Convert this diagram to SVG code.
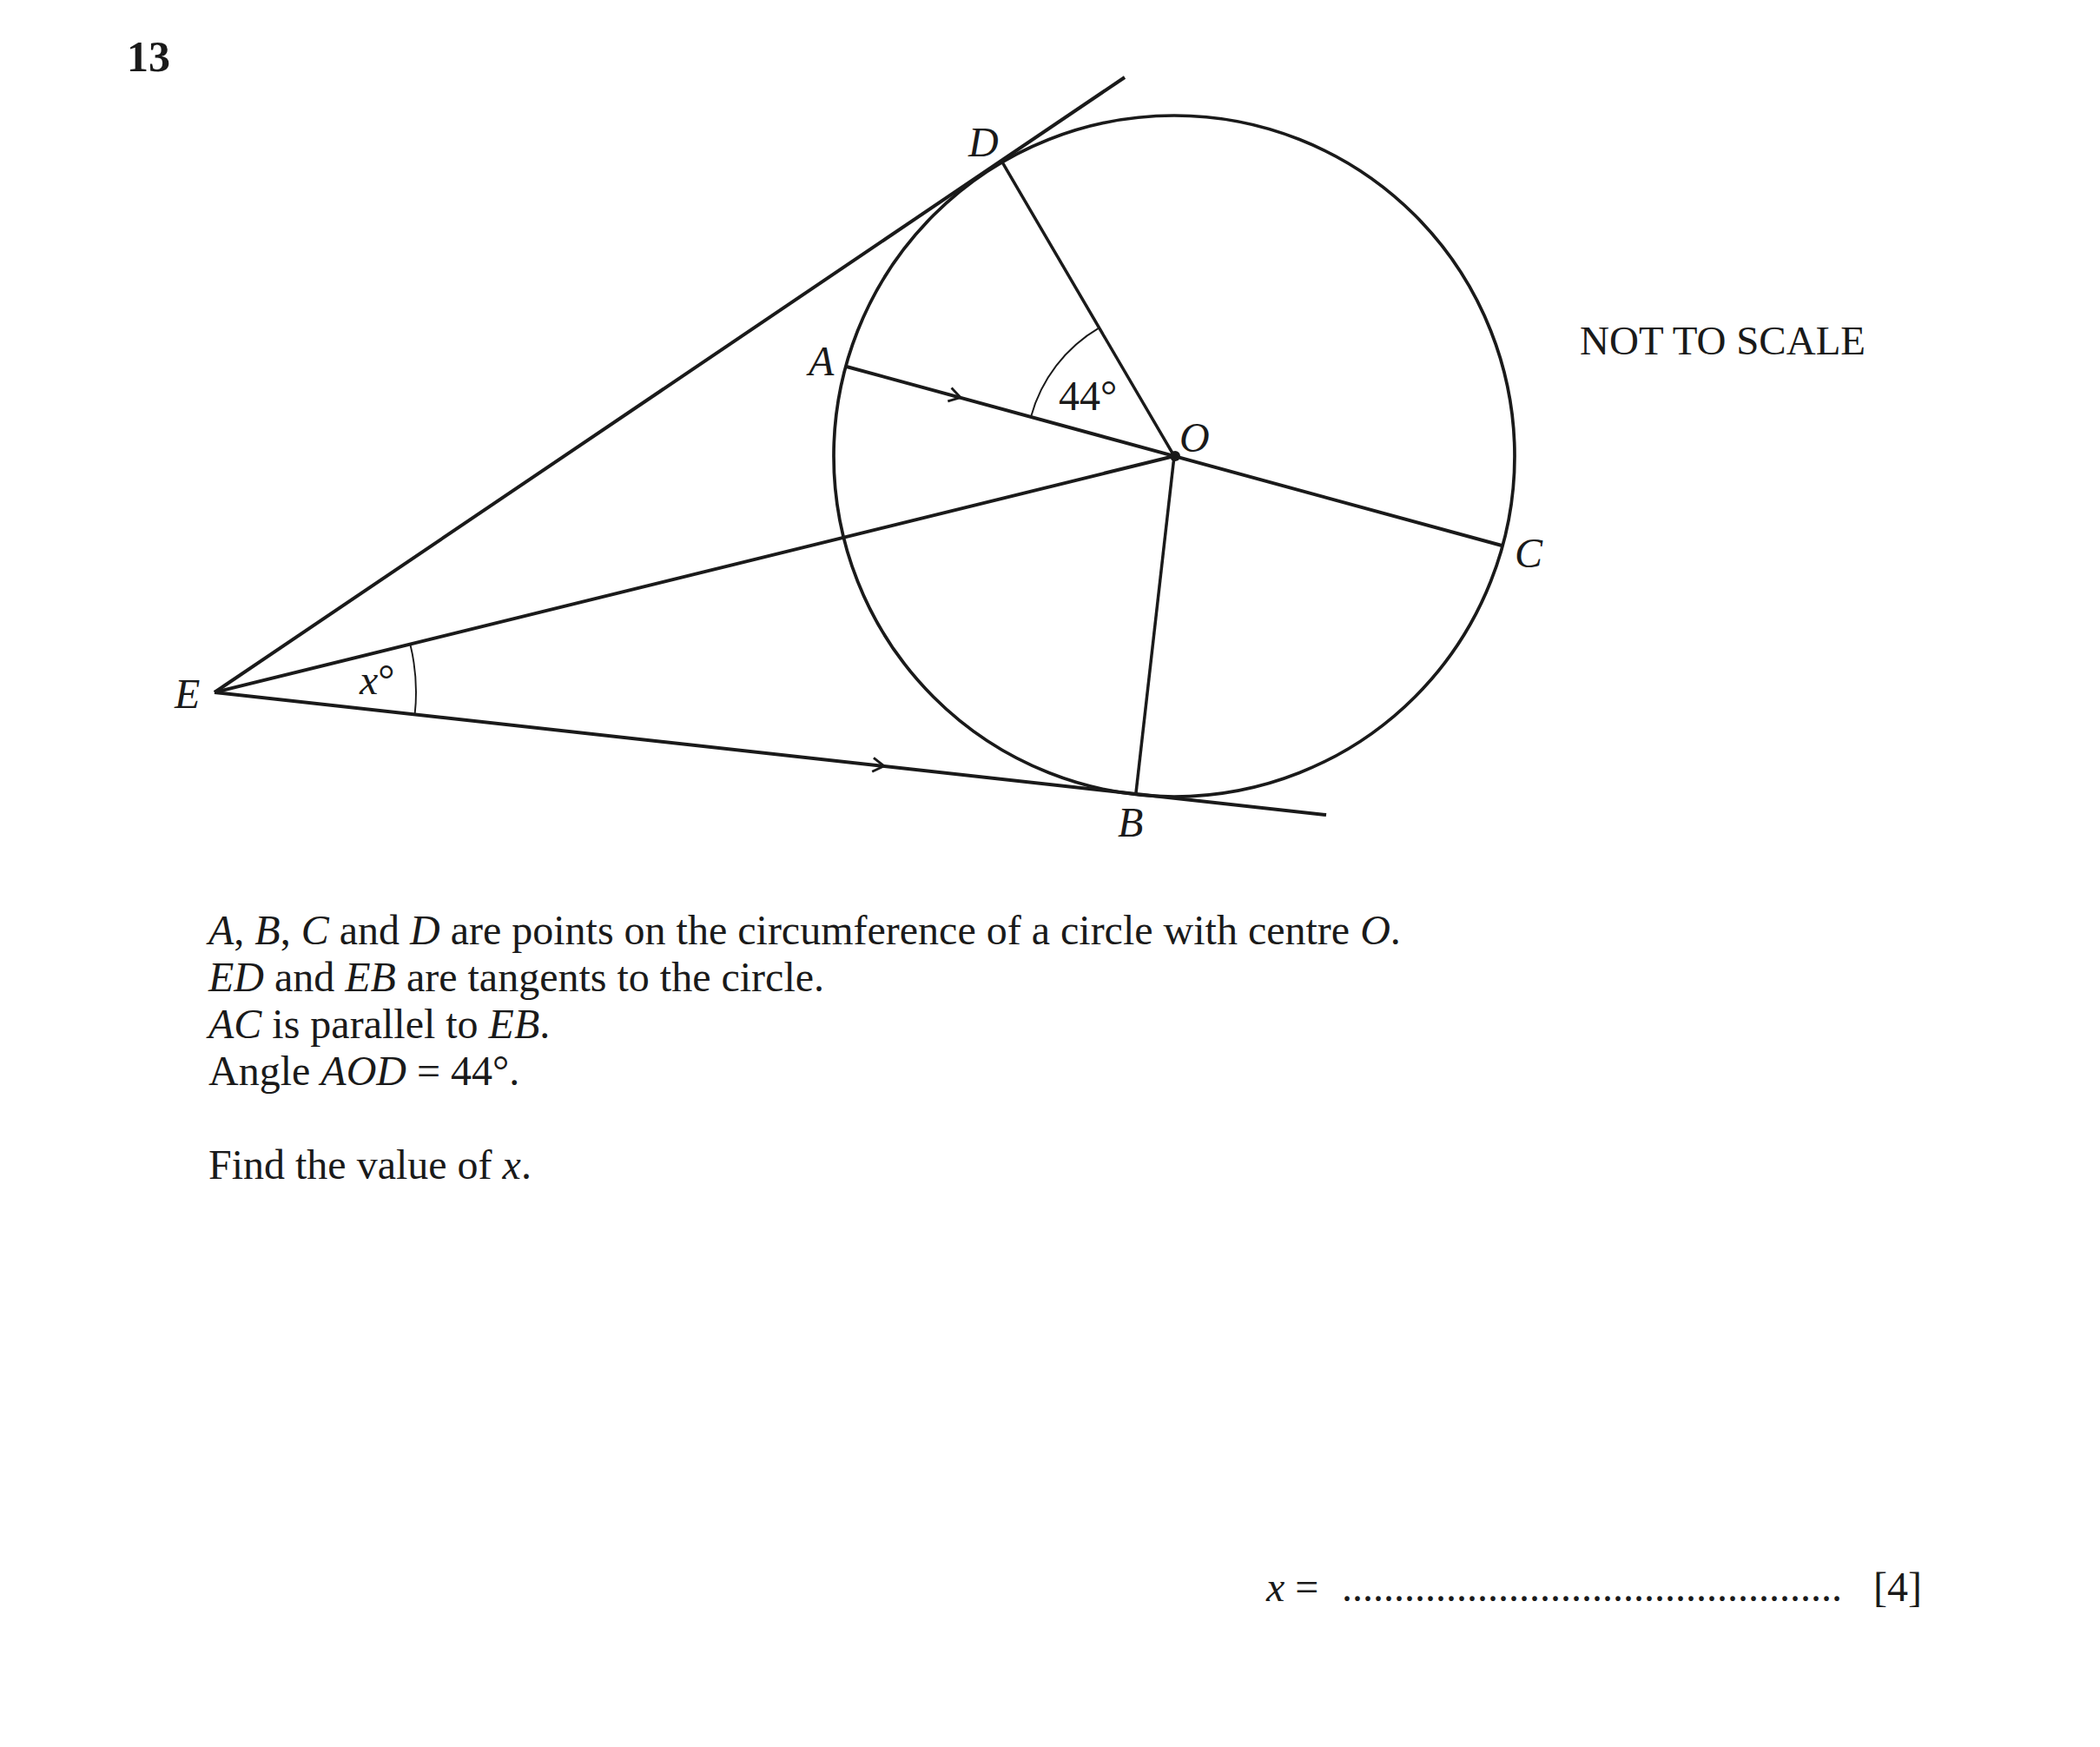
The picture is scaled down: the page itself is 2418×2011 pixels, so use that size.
<svg xmlns="http://www.w3.org/2000/svg" width="2418" height="2011" viewBox="0 0 2418 2011">
  <style>
    .ln { stroke: #1a1a1a; stroke-width: 4; fill: none; stroke-linecap: butt; }
    .thin { stroke: #1a1a1a; stroke-width: 1.9; fill: none; }
    .chev { stroke: #1a1a1a; stroke-width: 2.8; fill: none; stroke-linejoin: miter; }
    text { font-family: "Liberation Serif", "Times New Roman", serif; font-size: 48px; fill: #1a1a1a; }
    .it { font-style: italic; }
    .b { font-weight: bold; }
  </style>
  <defs>
    <path id="chevron" d="M -13,-8 L 0,0 L -13,8" class="chev"/>
  </defs>
  <rect width="2418" height="2011" fill="#ffffff"/>

  <text x="146" y="82" class="b" style="font-size:50px">13</text>

  <g id="circle">
    <circle cx="1352" cy="525" r="392" class="ln" style="stroke-width:3.7"/>
  </g>

  <g id="connectors">
    <line id="ED" x1="247" y1="797" x2="1295" y2="89" class="ln"/>
    <line id="EB" x1="247" y1="797" x2="1527" y2="938" class="ln"/>
    <line id="EO" x1="247" y1="797" x2="1352" y2="525" class="ln"/>
    <line id="AC" x1="973.8" y1="421.7" x2="1730.2" y2="628.3" class="ln"/>
    <line id="OD" x1="1352" y1="525" x2="1154" y2="186.7" class="ln" style="stroke-width:3.5"/>
    <line id="OB" x1="1352" y1="525" x2="1307.8" y2="914.5" class="ln" style="stroke-width:3.5"/>
    <use href="#chevron" transform="translate(1106,457.6) rotate(15.3)"/>
    <use href="#chevron" transform="translate(1018,881.8) rotate(6.29)"/>
    <path id="arc44" d="M 1187,479.9 A 171,171 0 0 1 1265.6,377.4" class="thin"/>
    <path id="arcx" d="M 472.3,741.6 A 232,232 0 0 1 477.6,822.4" class="thin"/>
  </g>

  <g id="O">
    <circle cx="1353" cy="525" r="6" fill="#1a1a1a"/>
    <text x="1358" y="520" class="it">O</text>
  </g>
  <g id="A"><text x="931" y="432" class="it">A</text></g>
  <g id="B"><text x="1287" y="963" class="it">B</text></g>
  <g id="C"><text x="1744" y="653" class="it">C</text></g>
  <g id="D"><text x="1115" y="180" class="it">D</text></g>
  <g id="E"><text x="201" y="815" class="it">E</text></g>

  <text x="1219" y="472">44°</text>
  <text x="414" y="799"><tspan class="it">x</tspan>°</text>

  <text x="1819" y="408" style="font-size:47px">NOT TO SCALE</text>

  <g id="question">
    <text x="240" y="1087"><tspan class="it">A</tspan>, <tspan class="it">B</tspan>, <tspan class="it">C</tspan> and <tspan class="it">D</tspan> are points on the circumference of a circle with centre <tspan class="it">O</tspan>.</text>
    <text x="240" y="1141"><tspan class="it">ED</tspan> and <tspan class="it">EB</tspan> are tangents to the circle.</text>
    <text x="240" y="1195"><tspan class="it">AC</tspan> is parallel to <tspan class="it">EB</tspan>.</text>
    <text x="240" y="1249">Angle <tspan class="it">AOD</tspan> = 44°.</text>
    <text x="240" y="1357">Find the value of <tspan class="it">x</tspan>.</text>
  </g>

  <g id="answer">
    <text x="1458" y="1843"><tspan class="it">x</tspan> =</text>
    <text x="1545" y="1843">................................................</text>
    <text x="2157" y="1843">[4]</text>
  </g>
</svg>
